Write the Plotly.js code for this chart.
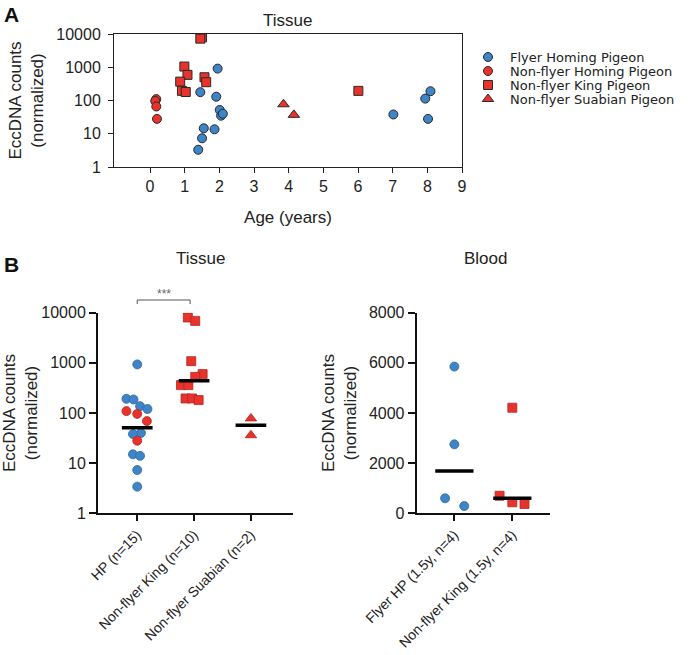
<!DOCTYPE html>
<html><head><meta charset="utf-8">
<script src="https://cdn.plot.ly/plotly-3.0.1.min.js"></script>
<style>html,body{margin:0;padding:0;background:#fff}#plot{width:692px;height:655px}</style>
</head><body><div id="plot"></div>
<script>
// ---------- Panel A data (Tissue, age vs counts) ----------
const seriesNames = ["Flyer Homing Pigeon","Non-flyer Homing Pigeon","Non-flyer King Pigeon","Non-flyer Suabian Pigeon"];
const flyerAge = [1.95,1.45,1.91,2.01,2.05,2.10,1.55,1.86,1.50,1.39,7.02,8.09,7.94,8.02];
const flyerVal = [910,178,130,52,35,40,14.6,13.6,7.3,3.3,38,190,114,28];
const nonHPAge = [0.18,0.15,0.18,0.20];
const nonHPVal = [110,97,66,28];
const kingAge = [1.50,1.45,0.99,1.08,0.87,1.57,1.62,0.92,1.03,6.01];
const kingVal = [7950,7250,1050,590,370,500,355,195,180,195];
const suabAge = [3.85,4.15];
const suabVal = [77,37];
const ageTicks = [0,1,2,3,4,5,6,7,8,9];
const logTicks = [1,10,100,1000,10000];

// ---------- Panel B data (Tissue by group) ----------
const tissueCats = ["HP (n=15)","Non-flyer King (n=10)","Non-flyer Suabian (n=2)"];
const tHPFlyer = [930,192,186,137,120,40,38,15,14,7.3,3.4];
const tHPFlyerJit = [0,-0.19,-0.065,0.05,0.18,0.065,-0.075,-0.075,0.05,0,0];
const tHPNon = [109,96,69,28];
const tHPNonJit = [-0.19,0,0.17,0];
const tKing = [8020,6870,1080,596,526,360,360,195,195,181];
const tKingJit = [-0.11,0.02,-0.05,0.15,0.02,-0.23,-0.1,-0.15,-0.035,0.08];
const tSuab = [78,36];
const tSuabJit = [0,0];
const tissueMedian = [51,440,57];

// ---------- Panel B data (Blood) ----------
const bloodCats = ["Flyer HP (1.5y, n=4)","Non-flyer King (1.5y, n=4)"];
const bFlyer = [5850,2750,600,290];
const bFlyerJit = [0,0,-0.16,0.17];
const bKing = [4210,700,440,370];
const bKingJit = [0,-0.22,0,0.21];
const bloodMedian = [1690,600];
const bloodTicks = [0,2000,4000,6000,8000];

const BLUE = "#3f84c6", RED = "#e8332c";
const FONT = "Liberation Sans, Arial, sans-serif";
const TXT = "#222";

function mk(sym, color, line, lw, size){ return {symbol:sym, color:color, size:size||9, line:{color:line, width:lw}}; }
const symA = ["circle","circle","square","triangle-up"];
const colA = [BLUE,RED,RED,RED];

const traces = [];
// Panel A
[[flyerAge,flyerVal],[nonHPAge,nonHPVal],[kingAge,kingVal],[suabAge,suabVal]].forEach((d,i)=>{
  traces.push({type:"scatter",mode:"markers",x:d[0],y:d[1],name:seriesNames[i],xaxis:"x",yaxis:"y",
    marker:mk(symA[i],colA[i],"#2a2a2a",1,i===3?10:9),showlegend:false,hoverinfo:"x+y"});
});
// Panel B tissue
function jit(base, arr){ return arr.map(j=>base+j); }
traces.push({type:"scatter",mode:"markers",x:jit(0,tHPFlyerJit),y:tHPFlyer,xaxis:"x2",yaxis:"y2",marker:mk("circle",BLUE,"#2f6aa3",0.8,9),showlegend:false});
traces.push({type:"scatter",mode:"markers",x:jit(0,tHPNonJit),y:tHPNon,xaxis:"x2",yaxis:"y2",marker:mk("circle",RED,"#b52620",0.8,9),showlegend:false});
traces.push({type:"scatter",mode:"markers",x:jit(1,tKingJit),y:tKing,xaxis:"x2",yaxis:"y2",marker:mk("square",RED,"#b52620",0.8,9),showlegend:false});
traces.push({type:"scatter",mode:"markers",x:jit(2,tSuabJit),y:tSuab,xaxis:"x2",yaxis:"y2",marker:mk("triangle-up",RED,"#b52620",0.8,10),showlegend:false});
tissueMedian.forEach((m,i)=>{
  traces.push({type:"scatter",mode:"lines",x:[i-0.27,i+0.27],y:[m,m],xaxis:"x2",yaxis:"y2",line:{color:"#000",width:3.5},showlegend:false,hoverinfo:"y"});
});
// Panel B blood
traces.push({type:"scatter",mode:"markers",x:jit(0,bFlyerJit),y:bFlyer,xaxis:"x3",yaxis:"y3",marker:mk("circle",BLUE,"#2f6aa3",0.8,9),showlegend:false});
traces.push({type:"scatter",mode:"markers",x:jit(1,bKingJit),y:bKing,xaxis:"x3",yaxis:"y3",marker:mk("square",RED,"#b52620",0.8,9),showlegend:false});
bloodMedian.forEach((m,i)=>{
  traces.push({type:"scatter",mode:"lines",x:[i-0.33,i+0.33],y:[m,m],xaxis:"x3",yaxis:"y3",line:{color:"#000",width:3.5},showlegend:false,hoverinfo:"y"});
});
// Legend keys (hidden axis, one row per series)
seriesNames.forEach((n,i)=>{
  traces.push({type:"scatter",mode:"markers",x:[0],y:[i],xaxis:"x4",yaxis:"y4",
    marker:mk(symA[i],colA[i],"#2a2a2a",1,i===3?10:9),showlegend:false,hoverinfo:"skip"});
});

const W=692,H=655;
const px=v=>v/W, py=v=>1-v/H;
const tickFont = {family:FONT,size:16,color:TXT};
const catFont = {family:FONT,size:14,color:TXT};

const layout = {
  width:W,height:H,margin:{l:0,r:0,t:0,b:0},paper_bgcolor:"#fff",plot_bgcolor:"#fff",
  font:{family:FONT,color:TXT},showlegend:false,
  xaxis:{domain:[px(114),px(462)],anchor:"y",range:[-1.04,9],tickvals:ageTicks,ticktext:ageTicks.map(String),
    ticks:"outside",ticklen:5,tickwidth:1,tickcolor:"#222",showline:true,linecolor:"#222",linewidth:1,mirror:true,
    showgrid:false,zeroline:false,tickfont:tickFont,
    title:{text:"Age (years)",font:{family:FONT,size:17,color:TXT},standoff:16}},
  yaxis:{domain:[py(167),py(34)],anchor:"x",type:"log",range:[0,4],tickvals:logTicks,ticktext:logTicks.map(String),
    ticks:"outside",ticklen:5,tickwidth:1,tickcolor:"#222",showline:true,linecolor:"#222",linewidth:1,mirror:true,
    showgrid:false,zeroline:false,tickfont:tickFont,ticklabelstandoff:4,
    title:{text:"EccDNA counts<br>(normalized)",font:{family:FONT,size:17,color:TXT},standoff:8}},
  xaxis2:{domain:[px(98),px(293)],anchor:"y2",range:[-0.69,2.74],tickvals:[0,1,2],ticktext:tissueCats,tickangle:-45,
    ticks:"outside",ticklen:6,tickwidth:2,tickcolor:"#111",showline:true,linecolor:"#111",linewidth:2,
    showgrid:false,zeroline:false,tickfont:catFont},
  yaxis2:{domain:[py(513.3),py(312.7)],anchor:"x2",type:"log",range:[0,4],tickvals:logTicks,ticktext:logTicks.map(String),
    ticks:"outside",ticklen:7,tickwidth:2,tickcolor:"#111",showline:true,linecolor:"#111",linewidth:2,
    showgrid:false,zeroline:false,tickfont:tickFont,
    title:{text:"EccDNA counts<br>(normalized)",font:{family:FONT,size:17,color:TXT},standoff:9}},
  xaxis3:{domain:[px(416.7),px(550)],anchor:"y3",range:[-0.65,1.65],tickvals:[0,1],ticktext:bloodCats,tickangle:-45,
    ticks:"outside",ticklen:6,tickwidth:2,tickcolor:"#111",showline:true,linecolor:"#111",linewidth:2,
    showgrid:false,zeroline:false,tickfont:catFont},
  yaxis3:{domain:[py(513.3),py(312.7)],anchor:"x3",range:[0,8000],tickvals:bloodTicks,ticktext:bloodTicks.map(String),
    ticks:"outside",ticklen:7,tickwidth:2,tickcolor:"#111",showline:true,linecolor:"#111",linewidth:2,
    showgrid:false,zeroline:false,tickfont:tickFont,
    title:{text:"EccDNA counts<br>(normalized)",font:{family:FONT,size:17,color:TXT},standoff:8}},
  xaxis4:{domain:[px(480),px(496)],anchor:"y4",range:[-1,1],visible:false,fixedrange:true},
  yaxis4:{domain:[py(106),py(50)],anchor:"x4",range:[3.5,-0.5],visible:false,fixedrange:true},
  annotations:[
    {text:"<b>A</b>",xref:"paper",yref:"paper",x:px(2),y:py(1),xanchor:"left",yanchor:"top",showarrow:false,font:{family:FONT,size:21,color:"#111"}},
    {text:"<b>B</b>",xref:"paper",yref:"paper",x:px(2),y:py(251),xanchor:"left",yanchor:"top",showarrow:false,font:{family:FONT,size:21,color:"#111"}},
    {text:"Tissue",xref:"paper",yref:"paper",x:px(287),y:py(20),xanchor:"center",yanchor:"middle",showarrow:false,font:{family:FONT,size:17,color:TXT}},
    {text:"Tissue",xref:"paper",yref:"paper",x:px(200),y:py(259),xanchor:"center",yanchor:"middle",showarrow:false,font:{family:FONT,size:17,color:TXT}},
    {text:"Blood",xref:"paper",yref:"paper",x:px(485),y:py(259),xanchor:"center",yanchor:"middle",showarrow:false,font:{family:FONT,size:17,color:TXT}},
    {text:"***",xref:"x2",yref:"paper",x:0.465,y:py(294),xanchor:"center",yanchor:"middle",showarrow:false,font:{family:FONT,size:12,color:"#666"}}
  ].concat(seriesNames.map((n,i)=>({text:n,xref:"paper",yref:"y4",x:px(508),y:i,xanchor:"left",yanchor:"middle",showarrow:false,
    font:{family:"DejaVu Sans, sans-serif",size:13,color:TXT}}))),
  shapes:[
    {type:"path",xref:"x2",yref:"paper",path:`M0,${py(304)} L0,${py(300)} L0.93,${py(300)} L0.93,${py(304)}`,line:{color:"#555",width:1}}
  ]
};
Plotly.newPlot("plot",traces,layout,{staticPlot:true});
</script></body></html>
